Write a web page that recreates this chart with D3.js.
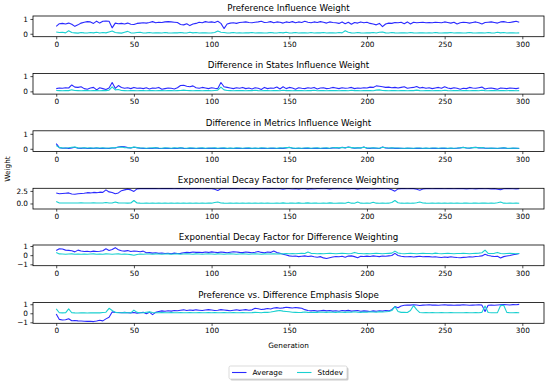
<!DOCTYPE html>
<html><head><meta charset="utf-8">
<script src="https://cdn.jsdelivr.net/npm/d3@7"></script>
<style>body{margin:0;background:#fff}svg{display:block}text{font-family:"DejaVu Sans",sans-serif;fill:#000}</style>
</head><body><svg id="c" width="550" height="384"></svg>
<script>
// Generations sampled every 2 (0..298)
const titles = ["Preference Influence Weight","Difference in States Influence Weight","Difference in Metrics Influence Weight","Exponential Decay Factor for Preference Weighting","Exponential Decay Factor for Difference Weighting","Preference vs. Difference Emphasis Slope"];
const seriesNames = ["Average","Stddev"];
const xTicks = [0,50,100,150,200,250,300];
const yTicksList = [[0,1],[0,1],[0,1],[0,2.5],[-1,0,1],[-1,0,1]];
const yDomains = [[-0.2,1.2],[-0.18,1.18],[-0.18,1.2],[-1.1,3.02],[-1.15,1.11],[-1.11,1.18]];

const avg1 = [0.50,0.68,0.70,0.66,0.72,0.64,0.50,0.60,0.72,0.78, 0.82,0.80,0.70,0.85,0.72,0.84,0.86,0.84,0.40,0.72, 0.68,0.70,0.66,0.72,0.64,0.62,0.70,0.72,0.74,0.72, 0.76,0.82,0.74,0.78,0.76,0.80,0.82,0.80,0.78,0.76, 0.62,0.60,0.68,0.55,0.66,0.70,0.78,0.74,0.82,0.78, 0.80,0.76,0.84,0.70,0.35,0.66,0.72,0.74,0.70,0.76, 0.78,0.80,0.76,0.74,0.78,0.80,0.84,0.76,0.78,0.82, 0.74,0.80,0.78,0.72,0.80,0.76,0.82,0.74,0.80,0.76, 0.84,0.78,0.74,0.80,0.76,0.82,0.78,0.72,0.80,0.76, 0.74,0.70,0.80,0.68,0.78,0.64,0.76,0.72,0.80,0.74, 0.78,0.70,0.66,0.60,0.70,0.48,0.66,0.72,0.70,0.76, 0.74,0.78,0.68,0.80,0.66,0.78,0.74,0.76,0.78,0.74, 0.76,0.74,0.78,0.76,0.74,0.80,0.76,0.72,0.78,0.66, 0.74,0.78,0.76,0.72,0.76,0.80,0.74,0.66,0.76,0.78, 0.80,0.76,0.72,0.80,0.82,0.78,0.76,0.80,0.84,0.78];
const std1 = [0.12,0.08,0.10,0.06,0.20,0.08,0.06,0.04,0.08,0.06, 0.05,0.08,0.06,0.10,0.05,0.08,0.06,0.12,0.18,0.08, 0.06,0.04,0.10,0.16,0.06,0.05,0.08,0.10,0.05,0.06, 0.08,0.05,0.07,0.06,0.05,0.08,0.06,0.05,0.07,0.06, 0.08,0.06,0.05,0.10,0.06,0.08,0.05,0.06,0.07,0.05, 0.06,0.08,0.18,0.10,0.08,0.05,0.06,0.08,0.05,0.06, 0.05,0.07,0.06,0.08,0.05,0.06,0.07,0.05,0.06,0.08, 0.06,0.05,0.08,0.06,0.10,0.05,0.06,0.08,0.05,0.07, 0.06,0.05,0.08,0.05,0.07,0.06,0.08,0.05,0.06,0.07, 0.05,0.08,0.06,0.20,0.10,0.06,0.05,0.08,0.06,0.05, 0.07,0.06,0.08,0.05,0.10,0.12,0.06,0.05,0.08,0.06, 0.05,0.07,0.06,0.05,0.08,0.06,0.05,0.07,0.06,0.05, 0.06,0.05,0.08,0.06,0.05,0.07,0.06,0.08,0.05,0.06, 0.07,0.05,0.06,0.08,0.06,0.05,0.07,0.06,0.05,0.08, 0.06,0.05,0.10,0.06,0.08,0.05,0.06,0.07,0.05,0.06];
const avg2 = [0.18,0.22,0.20,0.24,0.22,0.42,0.28,0.26,0.30,0.18, 0.14,0.22,0.26,0.10,0.24,0.18,0.12,0.22,0.58,0.20, 0.38,0.26,0.20,0.24,0.18,0.26,0.20,0.22,0.18,0.24, 0.16,0.22,0.20,0.26,0.14,0.18,0.22,0.20,0.16,0.24, 0.38,0.40,0.34,0.30,0.36,0.24,0.20,0.26,0.22,0.18, 0.24,0.20,0.18,0.58,0.30,0.26,0.22,0.18,0.24,0.20, 0.26,0.18,0.22,0.16,0.24,0.20,0.12,0.26,0.18,0.22, 0.20,0.28,0.16,0.30,0.18,0.26,0.22,0.14,0.24,0.20, 0.18,0.24,0.20,0.26,0.16,0.22,0.24,0.18,0.20,0.26, 0.22,0.18,0.24,0.20,0.22,0.26,0.18,0.22,0.20,0.24, 0.22,0.28,0.26,0.36,0.34,0.30,0.26,0.28,0.24,0.26, 0.22,0.26,0.30,0.20,0.24,0.26,0.32,0.22,0.26,0.20, 0.24,0.18,0.22,0.26,0.20,0.30,0.22,0.18,0.24,0.20, 0.14,0.20,0.18,0.26,0.22,0.20,0.24,0.28,0.16,0.20, 0.22,0.18,0.14,0.22,0.20,0.18,0.22,0.20,0.18,0.22];
const std2 = [0.06,0.05,0.04,0.06,0.05,0.10,0.06,0.05,0.04,0.06, 0.05,0.04,0.06,0.05,0.04,0.06,0.05,0.08,0.30,0.10, 0.12,0.06,0.05,0.04,0.06,0.05,0.04,0.06,0.05,0.04, 0.05,0.06,0.04,0.05,0.06,0.04,0.05,0.06,0.04,0.05, 0.06,0.08,0.06,0.05,0.04,0.06,0.05,0.04,0.06,0.05, 0.04,0.06,0.08,0.28,0.10,0.06,0.05,0.04,0.06,0.05, 0.05,0.04,0.06,0.05,0.07,0.05,0.04,0.06,0.05,0.04, 0.06,0.05,0.04,0.07,0.05,0.06,0.04,0.05,0.06,0.05, 0.04,0.06,0.05,0.07,0.04,0.05,0.06,0.04,0.05,0.06, 0.05,0.04,0.06,0.05,0.04,0.07,0.05,0.06,0.04,0.05, 0.06,0.05,0.04,0.08,0.10,0.06,0.05,0.04,0.06,0.05, 0.04,0.06,0.05,0.04,0.06,0.05,0.08,0.05,0.04,0.06, 0.05,0.04,0.06,0.05,0.04,0.07,0.05,0.04,0.06,0.05, 0.04,0.05,0.06,0.04,0.05,0.06,0.04,0.07,0.05,0.04, 0.06,0.05,0.04,0.06,0.05,0.04,0.06,0.05,0.04,0.05];
const avg3 = [0.35,0.08,0.04,0.05,0.03,0.06,0.10,0.04,0.03,0.05, 0.02,0.04,0.03,0.05,0.02,0.04,0.03,0.02,0.05,0.06, 0.12,0.15,0.14,0.08,0.05,0.10,0.08,0.04,0.03,0.02, 0.03,0.02,0.06,0.03,0.02,0.04,0.03,0.02,0.04,0.02, 0.06,0.03,0.02,0.04,0.03,0.02,0.03,0.04,0.02,0.03, 0.03,0.04,0.02,0.03,0.04,0.02,0.03,0.02,0.04,0.03, 0.02,0.03,0.04,0.02,0.03,0.02,0.04,0.03,0.02,0.03, 0.03,0.02,0.04,0.03,0.06,0.10,0.04,0.02,0.03,0.02, 0.03,0.04,0.02,0.03,0.04,0.02,0.03,0.04,0.02,0.06, 0.08,0.04,0.10,0.06,0.12,0.08,0.04,0.06,0.05,0.12, 0.04,0.03,0.05,0.04,0.02,0.12,0.06,0.04,0.05,0.03, 0.04,0.03,0.02,0.04,0.03,0.02,0.03,0.04,0.02,0.03, 0.02,0.03,0.04,0.02,0.03,0.04,0.02,0.03,0.02,0.04, 0.06,0.10,0.05,0.04,0.08,0.10,0.06,0.08,0.04,0.03, 0.04,0.03,0.02,0.04,0.06,0.03,0.02,0.04,0.03,0.02];
const std3 = [0.22,0.08,0.06,0.05,0.07,0.10,0.12,0.06,0.05,0.07, 0.05,0.06,0.04,0.07,0.05,0.06,0.04,0.05,0.06,0.07, 0.10,0.12,0.08,0.07,0.06,0.12,0.08,0.06,0.05,0.04, 0.05,0.06,0.07,0.05,0.04,0.06,0.05,0.04,0.06,0.05, 0.07,0.05,0.04,0.06,0.05,0.04,0.05,0.06,0.04,0.05, 0.05,0.06,0.04,0.05,0.06,0.04,0.05,0.04,0.06,0.05, 0.04,0.05,0.06,0.04,0.05,0.04,0.06,0.05,0.04,0.05, 0.05,0.04,0.06,0.05,0.08,0.09,0.06,0.04,0.05,0.04, 0.05,0.06,0.04,0.05,0.06,0.04,0.05,0.06,0.04,0.07, 0.08,0.06,0.09,0.07,0.10,0.08,0.06,0.07,0.06,0.10, 0.06,0.05,0.06,0.05,0.04,0.10,0.07,0.05,0.06,0.05, 0.05,0.04,0.04,0.05,0.04,0.04,0.05,0.05,0.04,0.05, 0.04,0.05,0.05,0.04,0.05,0.05,0.04,0.05,0.04,0.05, 0.07,0.09,0.06,0.05,0.08,0.09,0.07,0.08,0.05,0.04, 0.05,0.04,0.04,0.05,0.06,0.04,0.04,0.05,0.04,0.04];
const avg4 = [2.10,1.95,2.00,2.05,2.10,1.90,1.85,1.95,2.00,2.05, 2.15,2.10,2.20,2.15,2.25,2.20,2.70,2.30,2.20,1.95, 2.10,2.55,2.70,2.85,2.70,2.40,2.90,2.95,2.95,2.95, 2.96,2.95,2.96,2.94,2.96,2.95,2.96,2.95,2.94,2.96, 2.95,2.96,2.94,2.96,2.95,2.96,2.95,2.94,2.96,2.95, 2.94,2.85,2.60,2.95,2.96,2.94,2.96,2.95,2.96,2.94, 2.96,2.95,2.94,2.96,2.95,2.96,2.94,2.95,2.96,2.95, 2.96,2.94,2.95,2.85,2.95,2.96,2.88,2.95,2.86,2.96, 2.95,2.86,2.96,2.88,2.95,2.96,2.94,2.96,2.85,2.95, 2.96,2.95,2.94,2.96,2.88,2.95,2.96,2.86,2.95,2.96, 2.95,2.94,2.88,2.96,2.95,2.96,2.94,2.95,2.75,2.45, 2.90,2.95,2.96,2.94,2.95,2.96,2.82,2.65,2.90,2.95, 2.96,2.94,2.95,2.96,2.95,2.94,2.96,2.95,2.94,2.96, 2.95,2.96,2.90,2.95,2.94,2.90,2.96,2.95,2.92,2.95, 2.90,2.96,2.82,2.75,2.94,2.95,2.96,2.94,2.90,2.95];
const std4 = [0.40,0.10,0.08,0.10,0.08,0.10,0.08,0.10,0.12,0.10, 0.08,0.10,0.12,0.10,0.08,0.10,0.20,0.10,0.08,0.30, 0.12,0.10,0.08,0.06,0.10,0.60,0.10,0.06,0.05,0.06, 0.05,0.06,0.05,0.06,0.05,0.06,0.05,0.06,0.05,0.06, 0.05,0.06,0.05,0.06,0.05,0.06,0.05,0.06,0.05,0.06, 0.06,0.18,0.30,0.10,0.06,0.05,0.06,0.05,0.06,0.05, 0.06,0.05,0.06,0.05,0.06,0.05,0.06,0.05,0.06,0.05, 0.05,0.06,0.05,0.12,0.05,0.06,0.10,0.05,0.12,0.05, 0.06,0.12,0.05,0.10,0.06,0.05,0.06,0.05,0.12,0.06, 0.05,0.06,0.08,0.05,0.25,0.06,0.05,0.30,0.06,0.05, 0.06,0.05,0.25,0.06,0.05,0.06,0.05,0.06,0.20,0.60, 0.15,0.06,0.05,0.06,0.05,0.06,0.15,0.30,0.10,0.06, 0.05,0.06,0.05,0.06,0.05,0.06,0.05,0.06,0.05,0.06, 0.05,0.06,0.10,0.05,0.06,0.10,0.05,0.06,0.08,0.05, 0.10,0.05,0.15,0.30,0.06,0.05,0.06,0.05,0.08,0.05];
const avg5 = [0.50,0.70,0.68,0.55,0.52,0.48,0.36,0.55,0.45,0.40, 0.42,0.38,0.44,0.40,0.42,0.48,0.70,0.52,0.62,0.82, 0.60,0.48,0.44,0.50,0.40,0.46,0.42,0.38,0.44,0.26, 0.28,0.22,0.26,0.20,0.24,0.18,0.20,0.16,0.22,0.18, 0.20,0.26,0.30,0.28,0.34,0.30,0.32,0.28,0.34,0.30, 0.36,0.32,0.28,0.34,0.30,0.26,0.32,0.38,0.34,0.30, 0.28,0.34,0.30,0.26,0.32,0.40,0.30,0.26,0.34,0.30, 0.45,0.28,0.20,0.10,0.02,-0.08,-0.12,-0.10,-0.16,-0.12, -0.08,-0.14,-0.10,-0.18,-0.22,-0.16,-0.30,-0.36,-0.28,-0.20, -0.14,-0.18,-0.12,-0.22,-0.10,-0.08,-0.16,-0.28,-0.12,-0.14, -0.10,-0.14,-0.08,-0.12,-0.16,-0.10,-0.12,-0.08,-0.04,0.20, -0.04,-0.12,-0.16,-0.18,-0.14,-0.20,-0.16,-0.12,-0.18,-0.14, -0.16,-0.20,-0.18,-0.22,-0.26,-0.20,-0.24,-0.18,-0.22,-0.26, -0.28,-0.24,-0.22,-0.18,-0.20,-0.14,-0.12,-0.08,0.10,-0.04, -0.10,-0.14,-0.12,-0.30,-0.16,-0.10,-0.04,0.04,0.10,0.18];
const std5 = [0.30,0.14,0.12,0.10,0.12,0.14,0.10,0.12,0.10,0.12, 0.10,0.12,0.14,0.10,0.12,0.10,0.14,0.12,0.10,0.12, 0.14,0.10,0.12,0.10,0.06,0.00,0.08,0.12,0.10,0.12, 0.12,0.10,0.14,0.12,0.10,0.12,0.14,0.10,0.12,0.14, 0.10,0.12,0.14,0.12,0.10,0.14,0.12,0.10,0.12,0.14, 0.12,0.10,0.14,0.12,0.10,0.12,0.14,0.12,0.10,0.12, 0.14,0.12,0.10,0.12,0.14,0.12,0.10,0.14,0.12,0.12, 0.14,0.12,0.14,0.16,0.18,0.16,0.18,0.16,0.18,0.20, 0.18,0.34,0.20,0.18,0.16,0.18,0.16,0.18,0.20,0.18, 0.16,0.18,0.20,0.18,0.16,0.18,0.30,0.20,0.18,0.16, 0.18,0.16,0.18,0.20,0.18,0.16,0.18,0.20,0.22,0.44, 0.24,0.18,0.16,0.18,0.20,0.18,0.16,0.18,0.20,0.18, 0.18,0.16,0.22,0.18,0.16,0.18,0.20,0.18,0.16,0.18, 0.18,0.20,0.18,0.16,0.18,0.20,0.22,0.26,0.55,0.20, 0.18,0.20,0.30,0.18,0.16,0.18,0.20,0.18,0.16,0.18];
const avg6 = [-0.07,-0.68,-0.74,-0.72,-0.60,-0.82,-0.80,-0.84,-0.86,-0.88, -0.90,-0.88,-0.92,-0.86,-0.78,-0.84,-0.62,-0.44,0.15,0.10, 0.08,0.05,0.10,0.06,0.04,0.08,0.02,0.06,0.10,-0.05, 0.12,-0.15,0.10,0.20,0.26,0.22,0.28,0.24,0.30,0.28, 0.34,0.38,0.30,0.36,0.32,0.38,0.34,0.30,0.36,0.40, 0.36,0.30,0.34,0.40,0.36,0.32,0.28,0.34,0.38,0.32, 0.36,0.40,0.34,0.38,0.55,0.50,0.42,0.46,0.52,0.48, 0.58,0.62,0.56,0.60,0.66,0.62,0.58,0.64,0.60,0.56, 0.40,0.30,0.26,0.30,0.24,0.28,0.32,0.26,0.30,0.24, 0.28,0.22,0.30,0.26,0.32,0.24,0.28,0.30,0.22,0.26, 0.24,0.20,0.26,0.22,0.28,0.24,0.30,0.26,0.40,0.74, 0.60,0.80,0.88,0.92,0.90,0.94,0.92,0.86,0.90,0.92, 0.94,0.90,0.92,0.88,0.92,0.94,0.90,0.92,0.88,0.92, 0.90,0.94,0.92,0.88,0.90,0.92,0.94,0.90,0.20,0.88, 0.90,0.88,0.92,0.94,0.96,0.94,0.92,0.96,0.94,0.98];
const std6 = [0.48,0.06,0.04,0.05,0.48,0.06,0.04,0.03,0.05,0.04, 0.03,0.05,0.04,0.06,0.04,0.08,0.12,0.55,0.30,0.10, 0.06,0.05,0.08,0.06,0.05,0.35,0.10,0.06,0.05,0.12, 0.15,0.08,0.06,0.05,0.08,0.06,0.05,0.07,0.06,0.05, 0.07,0.05,0.06,0.08,0.05,0.06,0.08,0.06,0.05,0.07, 0.06,0.08,0.05,0.06,0.07,0.05,0.06,0.08,0.05,0.06, 0.08,0.06,0.05,0.07,0.10,0.08,0.06,0.12,0.10,0.14, 0.20,0.26,0.30,0.24,0.20,0.16,0.12,0.10,0.08,0.10, 0.14,0.10,0.08,0.12,0.10,0.14,0.12,0.10,0.14,0.12, 0.10,0.14,0.12,0.10,0.14,0.12,0.16,0.12,0.10,0.14, 0.12,0.16,0.14,0.12,0.18,0.14,0.16,0.20,0.30,0.74, 0.20,0.10,0.12,0.08,0.30,0.85,0.40,0.08,0.06,0.07, 0.06,0.07,0.05,0.06,0.08,0.06,0.05,0.07,0.06,0.05, 0.06,0.05,0.07,0.06,0.05,0.08,0.06,0.10,0.80,0.08, 0.06,0.05,0.07,0.85,0.88,0.10,0.06,0.05,0.07,0.06];

const averages = [avg1,avg2,avg3,avg4,avg5,avg6];
const stddevs = [std1,std2,std3,std4,std5,std6];
const generations = d3.range(0, 300, 2);

const colAvg = "#2a2aff", colStd = "#1ad0d0";
const svg = d3.select("#c");
const L = 33, R = 544, H = 20.7;
const tops = [16, 73.4, 130.8, 188.3, 245.0, 302.6];
const x = d3.scaleLinear().domain([-14.95, 313.95]).range([L, R]);
const fmtY = i => (i === 3 ? d3.format(".1f") : d3.format("d"));

titles.forEach((t, i) => {
  const top = tops[i];
  const y = d3.scaleLinear().domain(yDomains[i]).range([top + H, top]);
  const g = svg.append("g");
  const line = d3.line().x((d, j) => x(generations[j])).y(d => y(d));
  g.append("path").datum(averages[i]).attr("d", line).attr("fill", "none").attr("stroke", colAvg).attr("stroke-width", 1.1).attr("stroke-linejoin","round");
  g.append("path").datum(stddevs[i]).attr("d", line).attr("fill", "none").attr("stroke", colStd).attr("stroke-width", 1.1).attr("stroke-linejoin","round");
  g.append("rect").attr("x", L).attr("y", top).attr("width", R - L).attr("height", H).attr("fill", "none").attr("stroke", "#000").attr("stroke-width", 0.8);
  const xa = g.append("g").attr("transform", `translate(0,${top + H})`).call(d3.axisBottom(x).tickValues(xTicks).tickSize(2.6).tickPadding(2.4));
  const ya = g.append("g").attr("transform", `translate(${L},0)`).call(d3.axisLeft(y).tickValues(yTicksList[i]).tickSize(2.6).tickPadding(2.4).tickFormat(d => fmtY(i)(d).replace("-", "\u2212")));
  [xa, ya].forEach(a => {
    a.select(".domain").remove();
    a.selectAll("line").attr("stroke", "#000").attr("stroke-width", 0.7);
    a.selectAll("text").attr("font-size", 7.3).attr("font-family", "DejaVu Sans").attr("fill", "#000");
  });
  g.append("text").attr("x", (L + R) / 2).attr("y", top - 5).attr("text-anchor", "middle").attr("font-size", 8.7).text(t);
});

svg.append("text").attr("x", (L + R) / 2).attr("y", 348).attr("text-anchor", "middle").attr("font-size", 7.3).text("Generation");
svg.append("text").attr("transform", "translate(10,169) rotate(-90)").attr("text-anchor", "middle").attr("font-size", 7.3).text("Weight");

// legend
const lg = svg.append("g");
lg.append("rect").attr("x", 230.5).attr("y", 367.5).attr("width", 118).attr("height", 13).attr("rx", 1.5).attr("fill", "#999").attr("opacity", 0.5);
lg.append("rect").attr("x", 229).attr("y", 366).attr("width", 118).attr("height", 13).attr("rx", 1.5).attr("fill", "#fff").attr("stroke", "#ccc").attr("stroke-width", 0.7);
const legItems = [{n: seriesNames[0], c: colAvg, x: 232}, {n: seriesNames[1], c: colStd, x: 297}];
legItems.forEach(d => {
  lg.append("line").attr("x1", d.x).attr("x2", d.x + 14.5).attr("y1", 372.5).attr("y2", 372.5).attr("stroke", d.c).attr("stroke-width", 1.1);
  lg.append("text").attr("x", d.x + 20.5).attr("y", 375.2).attr("font-size", 7.3).text(d.n);
});
</script></body></html>
